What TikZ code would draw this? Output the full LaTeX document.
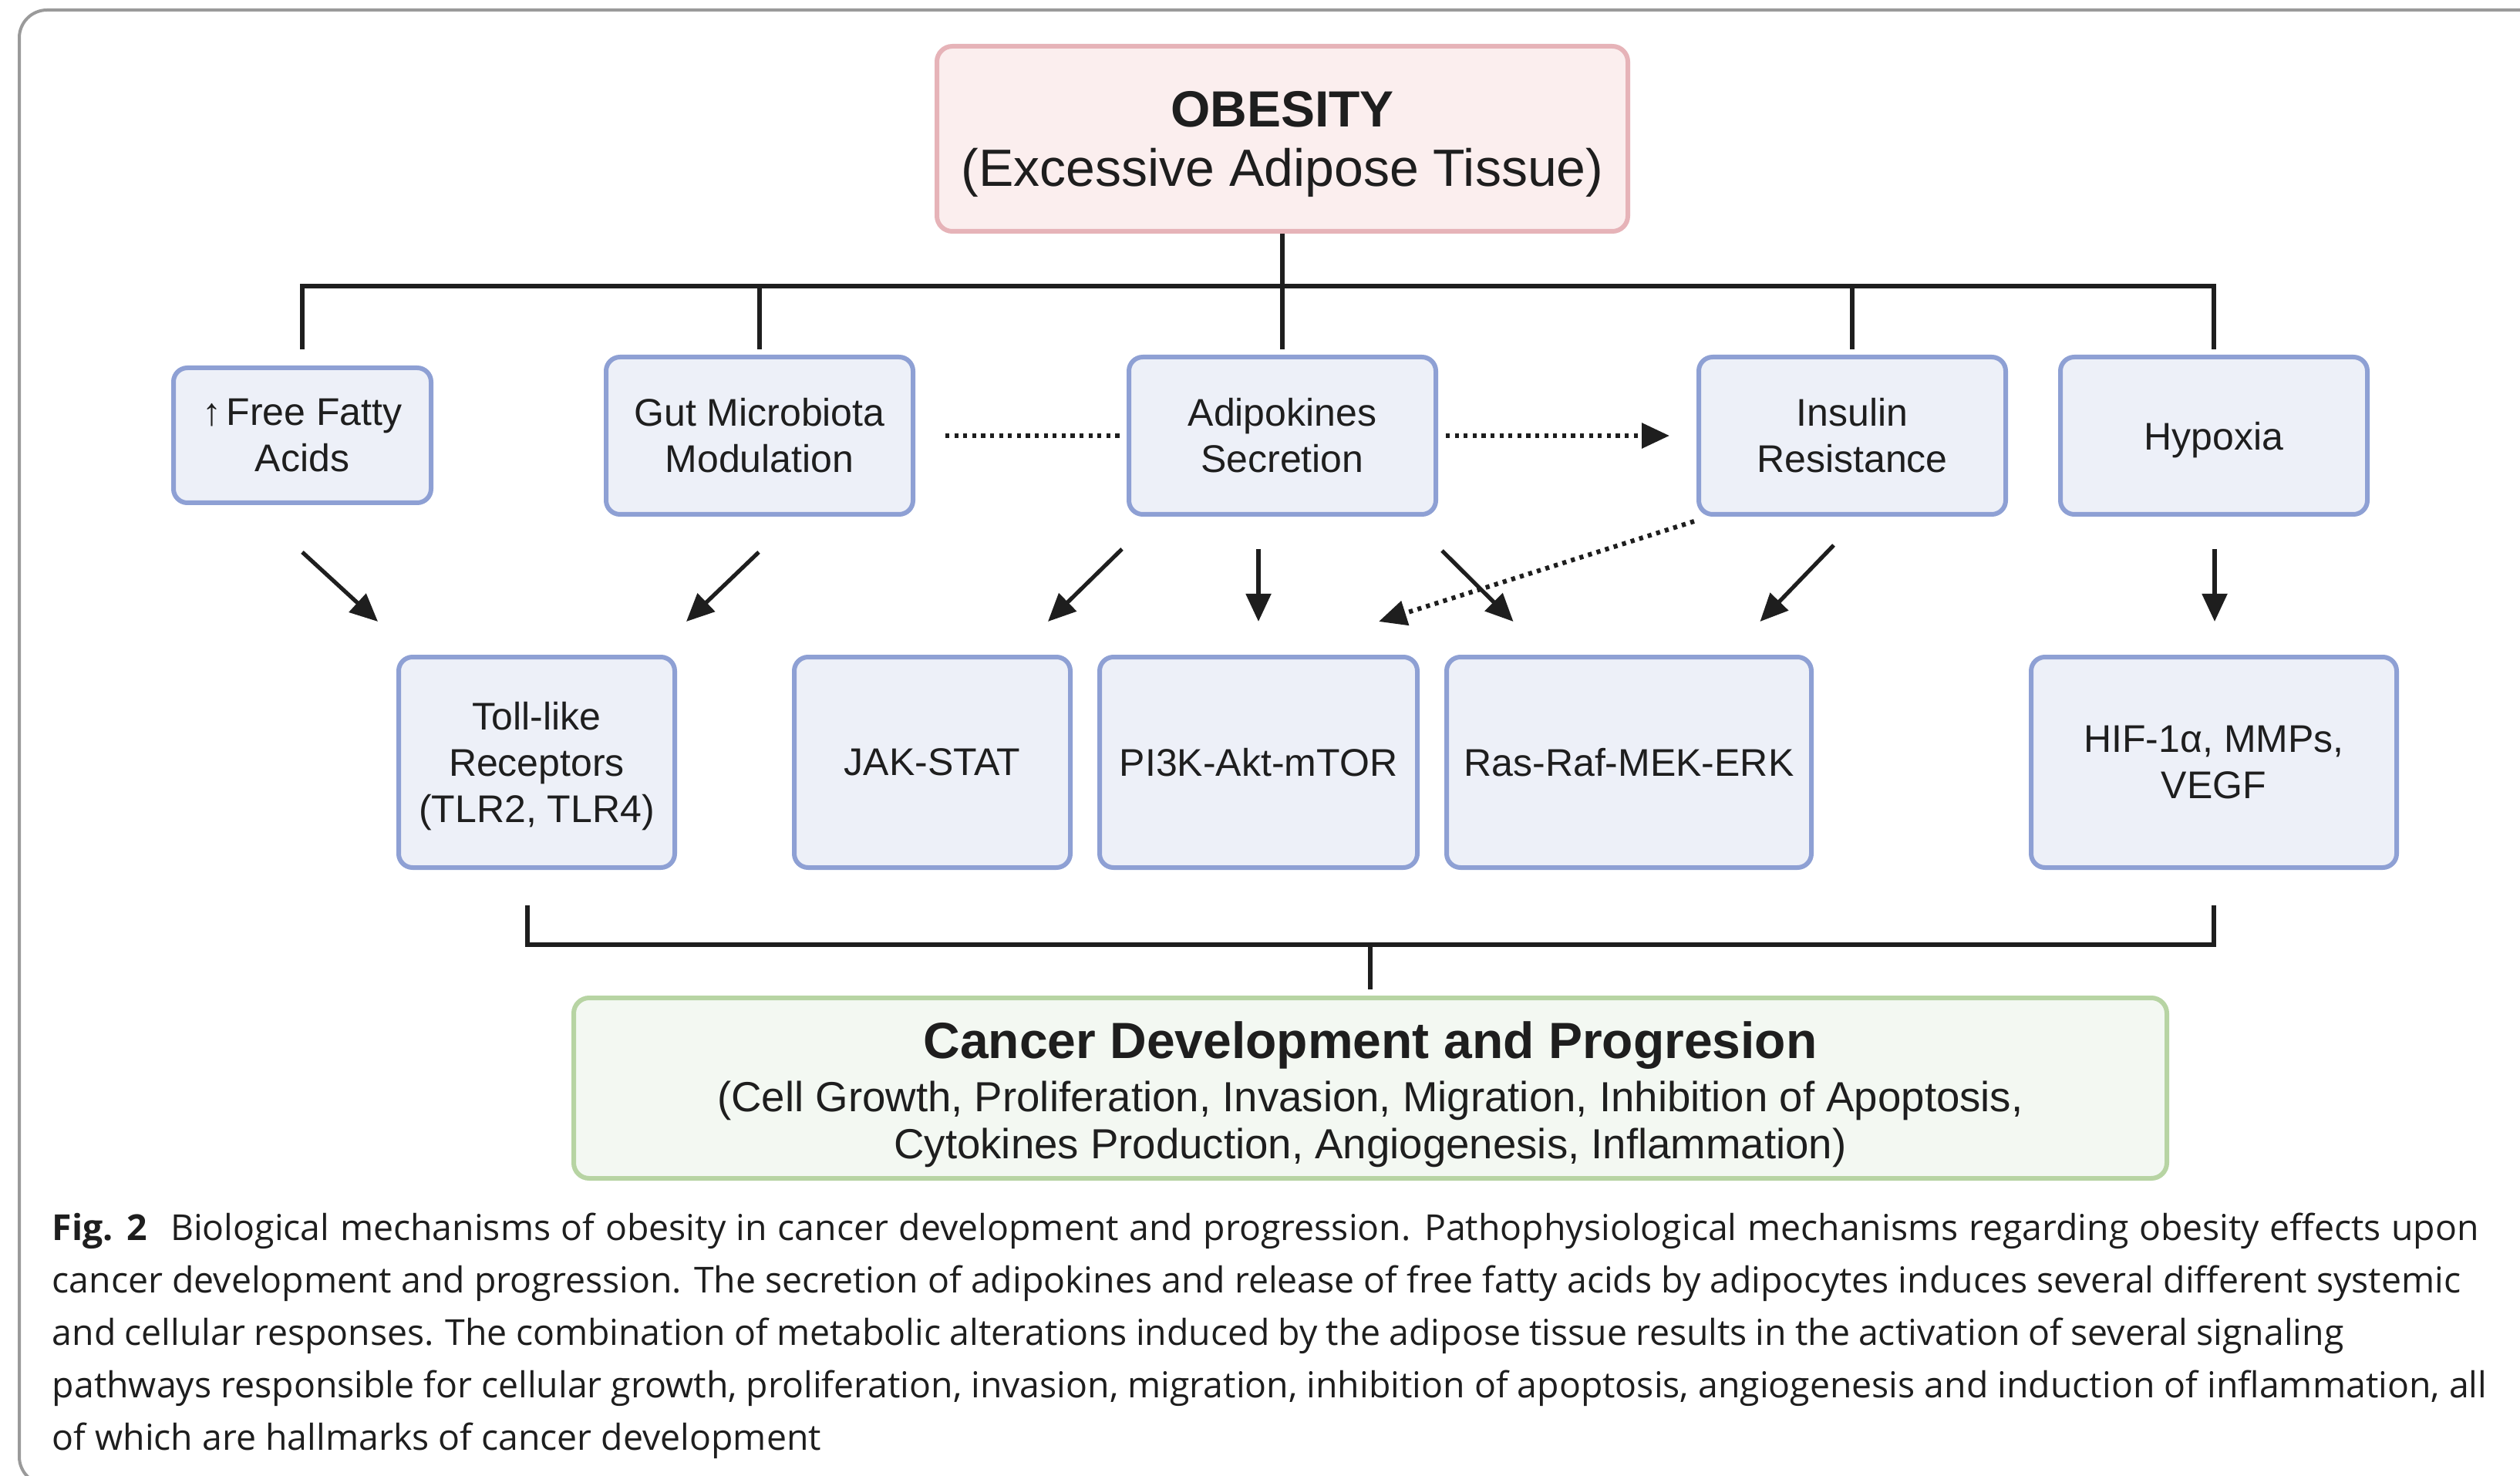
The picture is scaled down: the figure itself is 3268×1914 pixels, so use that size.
\documentclass[tikz,border=0pt]{standalone}
\usepackage{fontspec}
\setmainfont{Liberation Sans}
\newfontfamily\capfont{Open Sans}
\usetikzlibrary{arrows.meta,calc}
\definecolor{boxfill}{HTML}{EDF0F8}
\definecolor{boxline}{HTML}{8EA0D4}
\definecolor{obfill}{HTML}{FBEEEE}
\definecolor{obline}{HTML}{E6B3B8}
\definecolor{gfill}{HTML}{F3F8F2}
\definecolor{gline}{HTML}{B7D4A3}
\definecolor{txt}{HTML}{1E1E1E}
\definecolor{framec}{HTML}{9A9A9A}
\tikzset{
  bluebox/.style={draw=boxline, fill=boxfill, line width=1.5pt, rounded corners=4.5pt,
    align=center, text=txt, inner sep=0pt, font=\fontsize{12.5}{15}\selectfont},
  obbox/.style={draw=obline, fill=obfill, line width=1.5pt, rounded corners=5pt, inner sep=0pt},
  obtext/.style={align=center, text=txt, inner sep=0pt, font=\fontsize{17}{19.25}\selectfont},
  gbox/.style={draw=gline, fill=gfill, line width=1.5pt, rounded corners=5pt, inner sep=0pt},
  gtext/.style={align=center, text=txt, inner sep=0pt, font=\fontsize{13.65}{15.25}\selectfont},
  busline/.style={line width=1.6pt, txt},
  arr/.style={line width=1.3pt, txt, -{Triangle[length=9pt,width=8pt]}},
  dotline/.style={line width=1.5pt, txt, dash pattern=on 1.3pt off 1.6pt},
  captext/.style={anchor=base west, inner sep=0pt, text=txt, font=\capfont\fontsize{11.6}{14}\selectfont}
}
\begin{document}
\begin{tikzpicture}[x=0.25pt,y=-0.25pt]
\useasboundingbox (0,0) rectangle (3268,1914);
\fill[white] (0,0) rectangle (3268,1914);
\draw[framec, line width=1pt, rounded corners=9pt] (25,13) rectangle (3340,1925);

% top node
\node[obbox, minimum width=224pt, minimum height=60pt] (obesity) at (1663,180) {};
\node[obtext] (obesityT) at (1663,187)
  {{\bfseries\fontsize{16.5}{19.25}\selectfont OBESITY}\\(Excessive Adipose Tissue)};

% row 1
\node[bluebox, minimum width=83.5pt, minimum height=43.75pt] (ffa) at (392,564.5) {↑\kern1.5pt Free Fatty\\Acids};
\node[bluebox, minimum width=99.5pt, minimum height=51pt] (gut) at (985,565) {Gut Microbiota\\Modulation};
\node[bluebox, minimum width=99.5pt, minimum height=51pt] (adipo) at (1663,565) {Adipokines\\Secretion};
\node[bluebox, minimum width=99.5pt, minimum height=51pt] (insulin) at (2402,565) {Insulin\\Resistance};
\node[bluebox, minimum width=99.5pt, minimum height=51pt, text depth=0pt] (hypoxia) at (2871,565) {Hypoxia};

% row 2
\node[bluebox, minimum width=89.5pt, minimum height=68.25pt] (tlr) at (696,988.5) {};
\node[bluebox, draw=none, fill=none] (tlrT) at (696,994) {Toll-like\\Receptors\\(TLR2, TLR4)};
\node[bluebox, minimum width=89.5pt, minimum height=68.25pt] (jak) at (1209,988.5) {JAK-STAT};
\node[bluebox, minimum width=103pt, minimum height=68.25pt] (pi3k) at (1632,988.5) {PI3K-Akt-mTOR};
\node[bluebox, minimum width=118.25pt, minimum height=68.25pt] (ras) at (2112.5,988.5) {Ras-Raf-MEK-ERK};
\node[bluebox, minimum width=118.5pt, minimum height=68.25pt] (hif) at (2871,988.5) {HIF-1α, MMPs,\\VEGF};

% bottom node
\node[gbox, minimum width=516.5pt, minimum height=58.5pt] (cancer) at (1777,1411) {};
\node[gtext] (cancerT) at (1777,1419)
  {{\bfseries\fontsize{16.5}{15.25}\selectfont Cancer Development and Progresion}\\[2pt]
   (Cell Growth, Proliferation, Invasion, Migration, Inhibition of Apoptosis,\\
   Cytokines Production, Angiogenesis, Inflammation)};

% top bus
\coordinate (busT) at (1663,371);
\draw[busline] ($(ffa.north)+(0,-21)$) |- (busT) -| ($(hypoxia.north)+(0,-7)$);
\draw[busline] (obesity.south) -- ($(adipo.north)+(0,-7)$);
\draw[busline] ($(gut.north)+(0,-7)$) -- (gut.north |- busT);
\draw[busline] ($(insulin.north)+(0,-7)$) -- (insulin.north |- busT);

% bottom bus
\coordinate (busB) at (1777,1225);
\draw[busline] ($(tlr.south)+(-12,46)$) |- (busB) -| ($(hif.south)+(0,46)$);
\draw[busline] (busB) -- ($(cancer.north)+(0,-8)$);

% arrows
\draw[arr] ($(ffa.south)+(0,61)$) -- ($(tlr.north)+(-206,-43)$);
\draw[arr] ($(gut.south)+(-1,46)$) -- ($(tlr.north)+(194,-43)$);
\draw[arr] ($(adipo.south)+(-208,42)$) -- ($(jak.north)+(150,-43)$);
\draw[arr] ($(adipo.south)+(-31,42)$) -- ($(pi3k.north)+(0,-43)$);
\draw[arr] ($(adipo.south)+(207,44)$) -- ($(ras.north)+(-150,-43)$);
\draw[arr] ($(insulin.south)+(-24,37)$) -- ($(ras.north)+(170,-43)$);
\draw[arr] ($(hypoxia.south)+(1,42)$) -- ($(hif.north)+(1,-43)$);
\draw[dotline, -{Triangle[length=9pt,width=8pt]}] ($(insulin.south)+(-205,6)$) -- ($(pi3k.north)+(156,-43)$);
\draw[dotline] ($(gut.east)+(39,0)$) -- ($(adipo.west)+(-9,0)$);
\draw[dotline, -{Triangle[length=9pt,width=8pt]}] ($(adipo.east)+(10,0)$) -- ($(insulin.west)+(-35,0)$);

% caption
\node[captext] (cap1) at (67,1608) {\spaceskip=3.4pt{\bfseries Fig. 2}\hspace{0.65em}Biological mechanisms of obesity in cancer development and progression. Pathophysiological mechanisms regarding obesity effects upon};
\node[captext] (cap2) at (67,1676) {cancer development and progression. The secretion of adipokines and release of free fatty acids by adipocytes induces several different systemic};
\node[captext] (cap3) at (67,1744) {\spaceskip=2.75pt and cellular responses. The combination of metabolic alterations induced by the adipose tissue results in the activation of several signaling};
\node[captext] (cap4) at (67,1812) {pathways responsible for cellular growth, proliferation, invasion, migration, inhibition of apoptosis, angiogenesis and induction of inflammation, all};
\node[captext] (cap5) at (67,1880) {of which are hallmarks of cancer development};
\end{tikzpicture}
\end{document}
